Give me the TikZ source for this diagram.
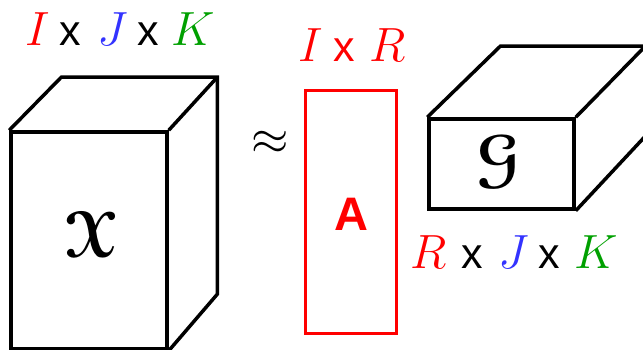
\documentclass[tikz,border=0pt]{standalone}
\usepackage{amsmath}
\usepackage{fontspec}
\usepackage[mathcal]{eucal}
\newfontfamily\lsans{Liberation Sans}
\usetikzlibrary{calc}
\definecolor{tred}{RGB}{255,0,0}
\definecolor{tblue}{RGB}{51,51,255}
\definecolor{tgreen}{RGB}{0,160,0}
\newcommand\mymath[2]{\scalebox{#1}{\Huge$#2$}}
\tikzset{
  face/.style={draw=black, line width=3.5pt, line join=miter, inner sep=0pt},
  edge/.style={draw=black, line width=3.5pt, line join=miter},
  mlet/.style={anchor=base, inner sep=0pt},
  times/.style={anchor=base, inner sep=0pt, font=\lsans\fontsize{43}{46}\selectfont},
  big/.style={inner sep=0pt},
}
\begin{document}
\begin{tikzpicture}[x=1pt,y=-1pt]
\useasboundingbox (0,0) rectangle (643,350);
\clip (0,0) rectangle (643,350);
% cube X
\node[face, minimum width=156pt, minimum height=217pt] (X) at (89,240.5) {};
\node[big] (Xs) at (92,235) {\mymath{2.6}{\boldsymbol{\mathcal{X}}}};
\draw[edge] (X.north west) -- ++(52,-53) coordinate (Xtl) -- ++(156,0) coordinate (Xtr) -- ++(0,217) coordinate (Xbr) -- (X.south east);
\draw[edge] (X.north east) -- (Xtr);
% labels top
\node[mlet, text=tred] (t1) at (38,45.5) {\mymath{1.93}{I}};
\node[times] (t2) at (70,45.5) {x};
\node[mlet, text=tblue] (t3) at (113,45.5) {\mymath{1.93}{J}};
\node[times] (t4) at (148.5,45.5) {x};
\node[mlet, text=tgreen] (t5) at (193,45.5) {\mymath{1.93}{K}};
% approx
\node[inner sep=0pt] (ap) at (270,143) {\mymath{1.93}{\approx}};
% matrix A
\node[draw=tred, line width=3pt, minimum width=91pt, minimum height=242pt, inner sep=0pt] (A) at (351.2,212) {};
\node[inner sep=0pt, text=tred, font=\lsans\bfseries\fontsize{47}{50}\selectfont] (As) at (351.5,214) {A};
\node[mlet, text=tred] (a1) at (311,61.5) {\mymath{1.93}{I}};
\node[times, text=tred] (a2) at (344,61.5) {x};
\node[mlet, text=tred] (a3) at (387.5,61.5) {\mymath{1.93}{R}};
% core G
\node[face, minimum width=145pt, minimum height=90pt] (G) at (501.5,164) {};
\node[big] (Gs) at (499,162) {\mymath{2.6}{\boldsymbol{\mathcal{G}}}};
\draw[edge] (G.north west) -- ++(73,-71) coordinate (Gtl) -- ++(145,0) coordinate (Gtr) -- ++(0,90) coordinate (Gbr) -- (G.south east);
\draw[edge] (G.north east) -- (Gtr);
% labels bottom
\node[mlet, text=tred] (b1) at (429,268) {\mymath{1.93}{R}};
\node[times] (b2) at (472.5,268) {x};
\node[mlet, text=tblue] (b3) at (514,268) {\mymath{1.93}{J}};
\node[times] (b4) at (549.5,268) {x};
\node[mlet, text=tgreen] (b5) at (596.5,268) {\mymath{1.93}{K}};
\end{tikzpicture}
\end{document}
